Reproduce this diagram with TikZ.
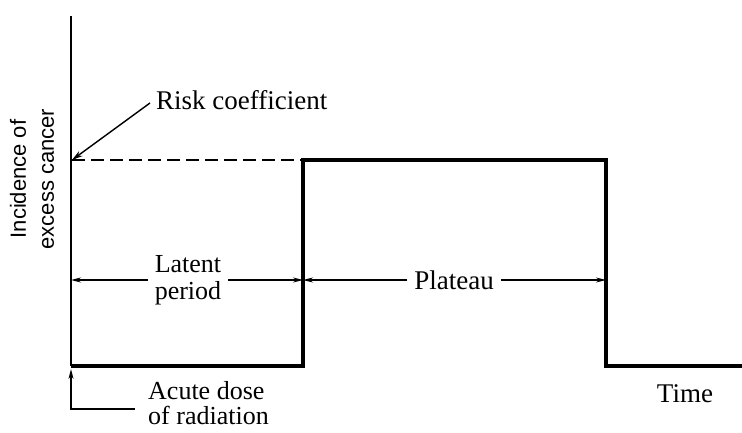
\documentclass[tikz,border=0pt]{standalone}
\usepackage{fontspec}
\setmainfont{Liberation Serif}
\newfontfamily\axissans{Liberation Sans}
\usepackage{xcolor}
\usetikzlibrary{arrows.meta,positioning}

\begin{document}
\begin{tikzpicture}

        \useasboundingbox (0pt,0pt) rectangle (742pt,432pt);

        % Curve corners
        \coordinate (origin) at (71pt,66pt);
        \coordinate (axistop) at (71pt,416pt);
        \coordinate (rise) at (303pt,66pt);
        \coordinate (risetop) at (303pt,272pt);
        \coordinate (falltop) at (606pt,272pt);
        \coordinate (fall) at (606pt,66pt);
        \coordinate (timeend) at (742pt,66pt);
        \coordinate (riskpoint) at (72pt,272pt);
        \coordinate (dosepoint) at (71pt,63pt);

        % Text Nodes (without boxes)
        \node (ylabel) at (32pt,253pt) [rotate=90, align=center, font=\axissans\fontsize{22}{28}\selectfont] {Incidence of\\excess cancer};
        \node (risk) at (152pt,332pt) [anchor=west, inner sep=4pt, font=\fontsize{27}{24}\selectfont] {Risk coefficient};
        \node (latent) at (188pt,152pt) [align=center, inner sep=7pt, font=\fontsize{26}{27}\selectfont] {Latent\\period};
        \node (plateau) at (454pt,152pt) [inner sep=7pt, font=\fontsize{27}{24}\selectfont] {Plateau};
        \node (dose) at (147pt,29pt) [anchor=west, align=left, inner sep=1pt, font=\fontsize{26}{25}\selectfont] {Acute dose\\of radiation};
        \node (time) at (685pt,38pt) [font=\fontsize{27}{24}\selectfont] {Time};

        % Axis and curve
        \draw[line width=0.7mm] (axistop) -- (origin);
        \draw[line width=1.4mm, line join=miter] (origin) -- (rise) -- (risetop) -- (falltop) -- (fall) -- (timeend);
        \draw[line width=0.5mm, dash pattern=on 13pt off 6pt] (riskpoint) -- (risetop);

        % Arrows
        \draw[-{Stealth[length=11pt,width=6pt]}, line width=0.5mm] ([shift={(-2pt,-3pt)}]risk.west) -- (riskpoint);
        \draw[-{Stealth[length=10pt,width=5pt]}, line width=0.5mm] (latent.west) -- (latent.west -| origin);
        \draw[-{Stealth[length=10pt,width=5pt]}, line width=0.5mm] (latent.east) -- (latent.east -| rise);
        \draw[-{Stealth[length=10pt,width=5pt]}, line width=0.5mm] (plateau.west) -- (plateau.west -| rise);
        \draw[-{Stealth[length=10pt,width=5pt]}, line width=0.5mm] (plateau.east) -- (plateau.east -| fall);
        \draw[-{Stealth[length=10pt,width=5pt]}, line width=0.5mm] ([shift={(-12pt,-6pt)}]dose.west) -- ([yshift=-6pt]dose.west -| dosepoint) -- (dosepoint);

    \end{tikzpicture}
\end{document}
